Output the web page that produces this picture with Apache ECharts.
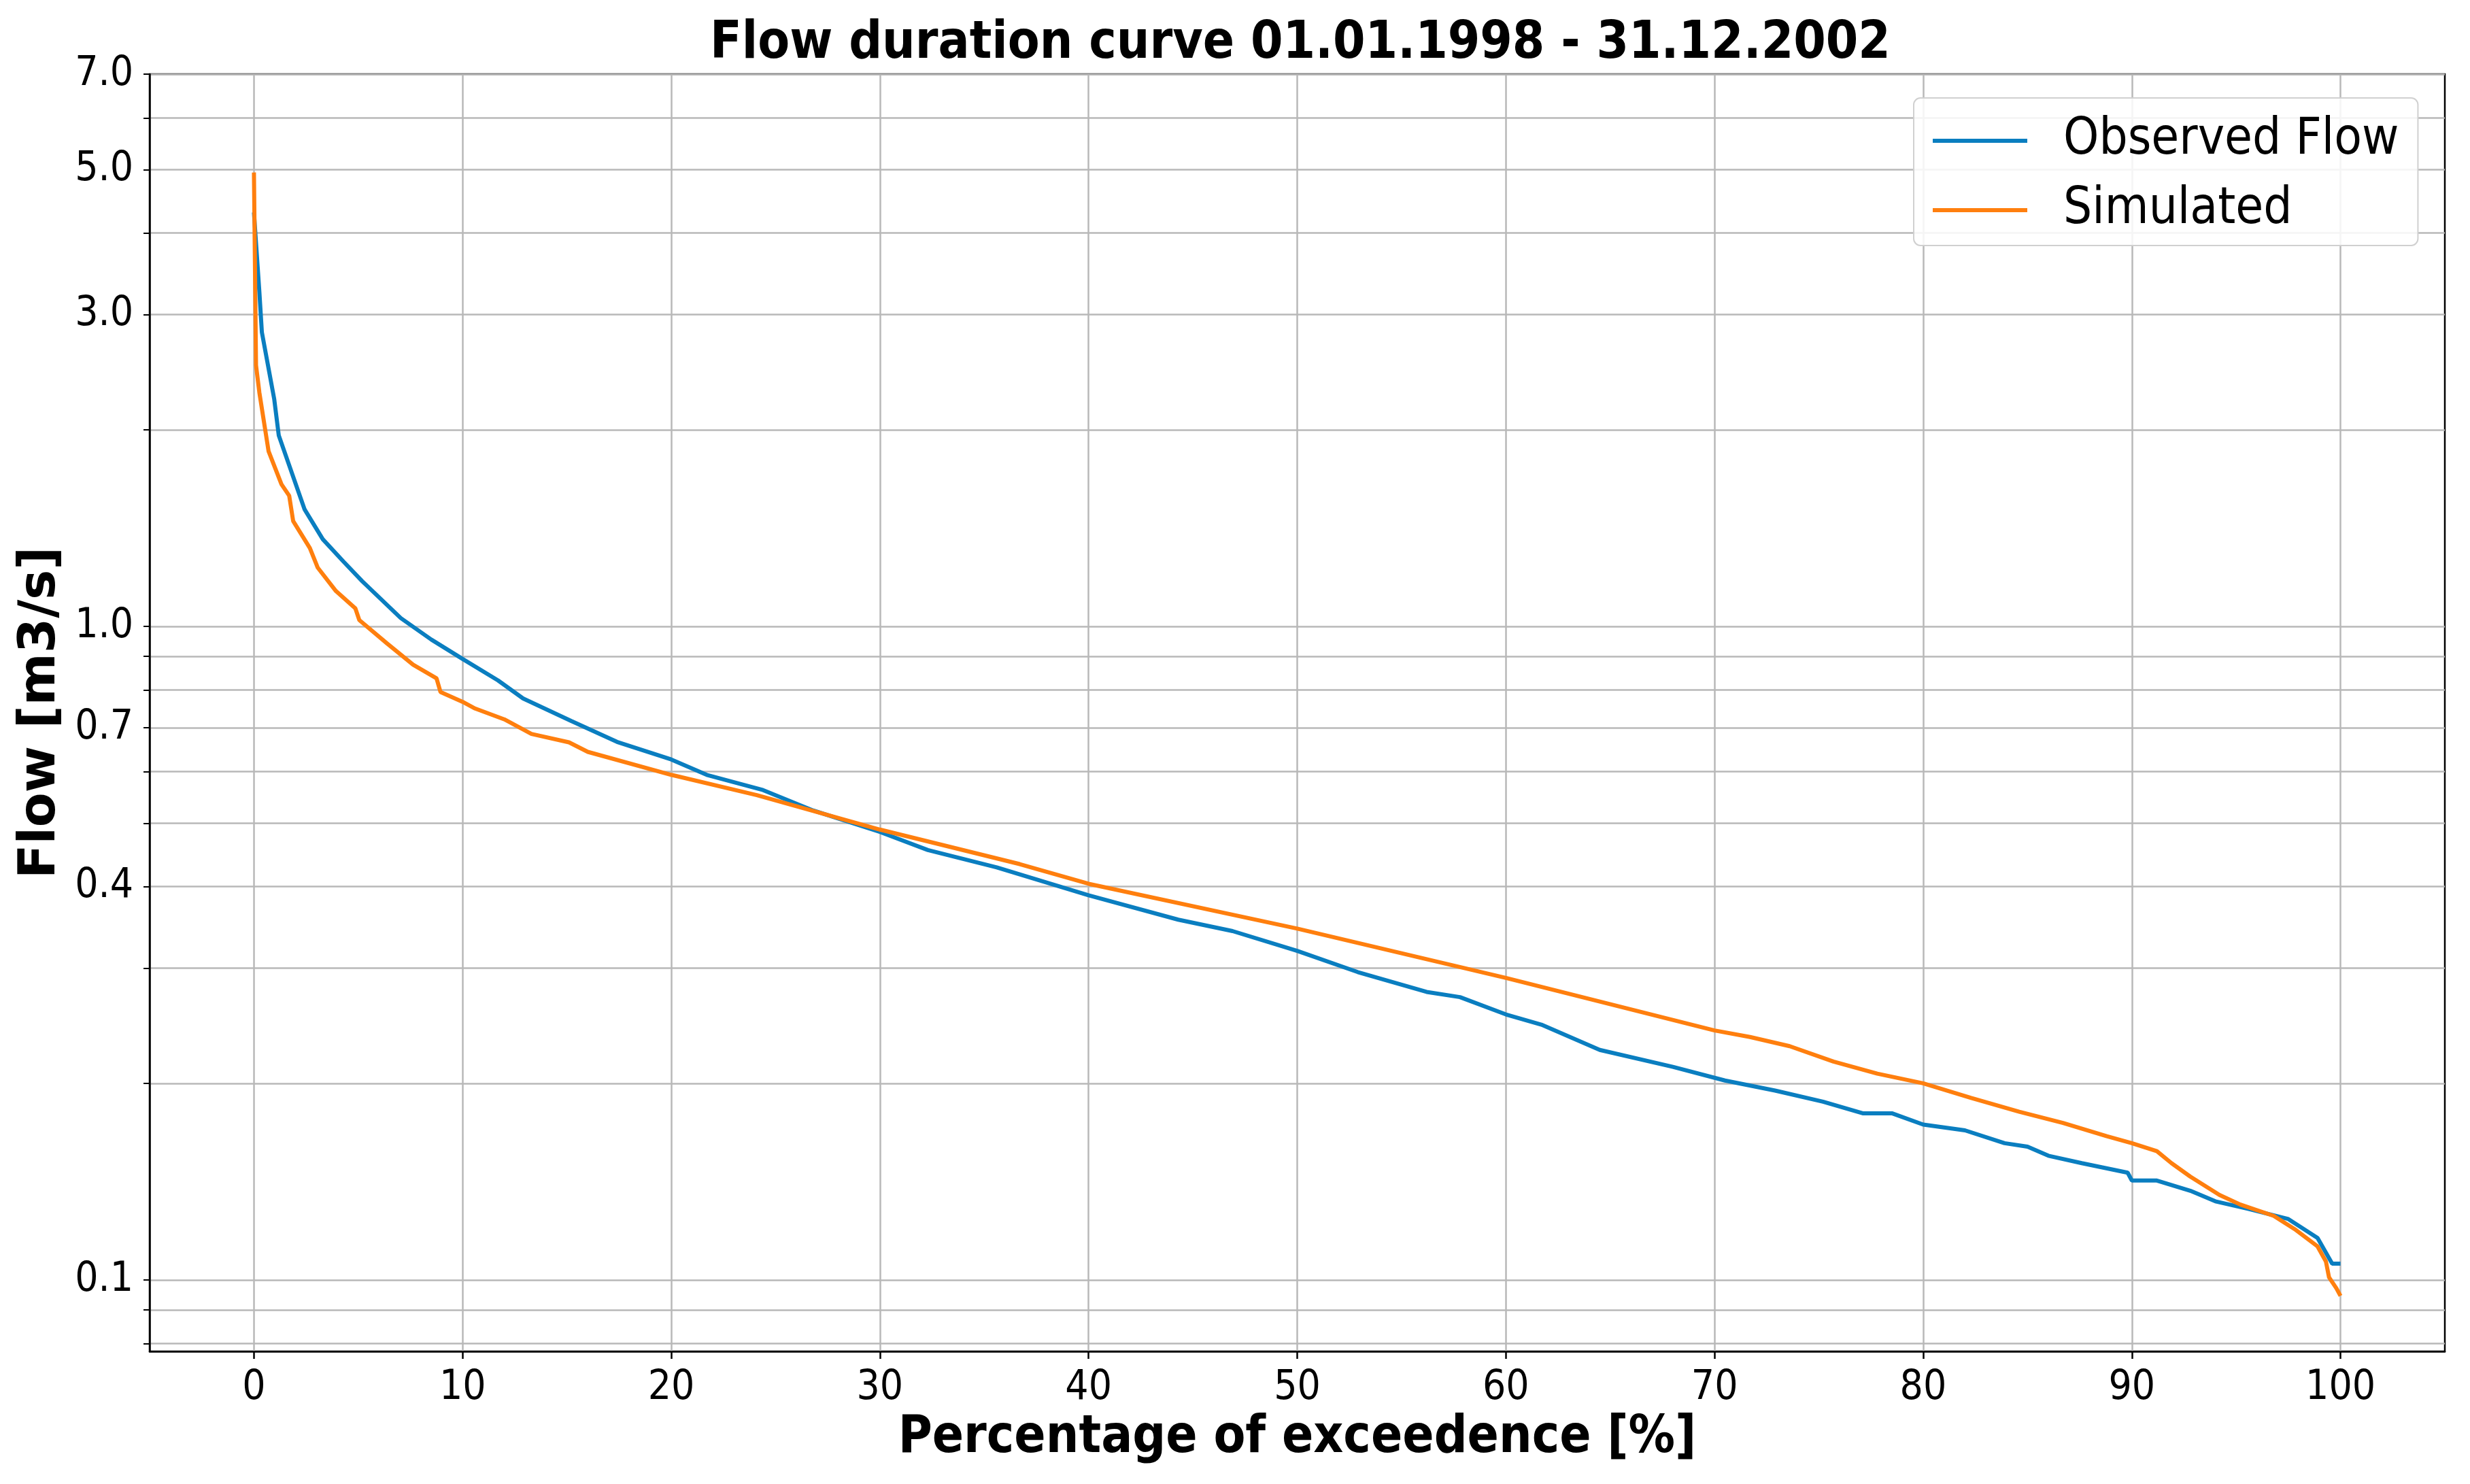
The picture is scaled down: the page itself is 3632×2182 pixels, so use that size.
<!DOCTYPE html>
<html>
<head>
<meta charset="utf-8">
<script src="https://cdn.jsdelivr.net/npm/echarts@6/dist/echarts.min.js"></script>
<style>
  html, body { margin: 0; padding: 0; background: #fff; }
  #chart { width: 3632px; height: 2182px; }
</style>
</head>
<body>
<div id="chart"></div>
<script>
// observed flow duration curve (percent of exceedence, m3/s)
var obsPct  = [0, 0.26, 0.38, 0.97, 1.19, 1.98, 2.43, 3.3, 4.3, 5.19, 7.04, 8.5, 10, 11.7, 12.9, 15.2, 17.4, 20, 21.7, 24.4, 26.8, 30, 32.3, 35.6, 40, 44.3, 46.9, 50, 52.9, 56.2, 57.8, 60, 61.7, 64.5, 68.0, 70.5, 72.9, 75.2, 77.1, 78.5, 80, 82, 83.9, 85.0, 86, 87.6, 89.8, 90.0, 91.2, 92.8, 94.0, 95.6, 97.5, 98.9, 99.6, 100];
var obsFlow = [4.3, 3.25, 2.82, 2.23, 1.96, 1.66, 1.51, 1.36, 1.256, 1.173, 1.03, 0.955, 0.892, 0.827, 0.776, 0.717, 0.666, 0.626, 0.593, 0.562, 0.523, 0.485, 0.455, 0.428, 0.388, 0.356, 0.342, 0.319, 0.296, 0.276, 0.271, 0.255, 0.246, 0.225, 0.212, 0.202, 0.195, 0.1875, 0.180, 0.180, 0.173, 0.1695, 0.162, 0.160, 0.155, 0.151, 0.146, 0.142, 0.142, 0.137, 0.132, 0.1285, 0.124, 0.116, 0.106, 0.106];

// simulated
var simPct  = [0, 0.1, 0.26, 0.7, 1.32, 1.69, 1.88, 2.68, 3.06, 3.93, 4.86, 5.05, 6.38, 7.63, 8.75, 8.94, 10, 10.6, 12.0, 13.3, 15.1, 16.0, 20, 24.1, 30, 36.7, 40, 50, 60, 70, 71.7, 73.6, 75.7, 77.8, 80, 82.3, 84.6, 86.7, 88.8, 90, 91.2, 91.9, 92.8, 94.2, 95.2, 96.8, 97.8, 98.9, 99.3, 99.45, 99.8, 100];
var simFlow = [4.95, 2.51, 2.28, 1.855, 1.65, 1.585, 1.45, 1.318, 1.23, 1.133, 1.066, 1.023, 0.942, 0.874, 0.833, 0.794, 0.767, 0.749, 0.721, 0.685, 0.665, 0.643, 0.593, 0.552, 0.489, 0.433, 0.404, 0.345, 0.290, 0.241, 0.2355, 0.228, 0.216, 0.207, 0.200, 0.190, 0.181, 0.174, 0.166, 0.162, 0.1575, 0.151, 0.144, 0.135, 0.1305, 0.1254, 0.1197, 0.1126, 0.1068, 0.101, 0.0972, 0.0946];

var xTicks = [0, 10, 20, 30, 40, 50, 60, 70, 80, 90, 100];
var yLabels = [0.1, 0.4, 0.7, 1.0, 3.0, 5.0, 7.0];
var yGrid = [0.08, 0.09, 0.1, 0.2, 0.3, 0.4, 0.5, 0.6, 0.7, 0.8, 0.9, 1, 2, 3, 4, 5, 6, 7];

var FONT = "'DejaVu Sans Condensed', 'DejaVu Sans', sans-serif";
var FONT_WIDE = "'DejaVu Sans', sans-serif";

// y is drawn on a log10 scale
function lg(v) { return Math.log10(v); }
function pairs(xs, ys) {
  var out = [];
  for (var i = 0; i < xs.length; i++) out.push([xs[i], lg(ys[i])]);
  return out;
}

var chart = echarts.init(document.getElementById('chart'), null, { renderer: 'canvas' });

var option = {
  animation: false,
  backgroundColor: '#ffffff',
  title: {
    text: 'Flow duration curve 01.01.1998 - 31.12.2002',
    left: 1907,
    top: 22,
    textAlign: 'center',
    textStyle: { fontFamily: FONT, fontWeight: 'bold', fontSize: 76, color: '#000' }
  },
  legend: {
    orient: 'vertical',
    left: 2814,
    top: 144,
    padding: [23, 28, 12, 28],
    itemGap: 22,
    itemWidth: 139,
    itemHeight: 6,
    icon: 'rect',
    backgroundColor: 'rgba(255,255,255,0.85)',
    borderColor: '#d0d0d0',
    borderWidth: 2,
    borderRadius: 10,
    textStyle: { fontFamily: FONT, fontSize: 74, color: '#000', lineHeight: 80, padding: [0, 0, 0, 48] },
    data: ['Observed Flow', 'Simulated']
  },
  grid: {
    left: 220, right: 37, top: 109, bottom: 195,
    show: true,
    borderColor: '#000',
    borderWidth: 2.5,
    backgroundColor: 'transparent'
  },
  xAxis: {
    type: 'value',
    min: -5,
    max: 105,
    name: 'Percentage of exceedence [%]',
    nameLocation: 'middle',
    nameGap: 90,
    nameTextStyle: { fontFamily: FONT, fontWeight: 'bold', fontSize: 76, color: '#000' },
    axisLine: { show: true, onZero: false, lineStyle: { color: '#000', width: 2.5 } },
    axisTick: { show: true, length: 11, inside: false, customValues: xTicks, lineStyle: { color: '#000', width: 2.5 } },
    axisLabel: {
      customValues: xTicks,
      margin: 24,
      fontFamily: FONT, fontSize: 60, color: '#000'
    },
    splitLine: { show: true, lineStyle: { color: '#b8b8b8', width: 2.5 } }
  },
  yAxis: {
    type: 'value',
    min: lg(0.0778),
    max: lg(7),
    name: 'Flow [m3/s]',
    nameLocation: 'middle',
    nameGap: 122,
    nameTextStyle: { fontFamily: FONT_WIDE, fontWeight: 'bold', fontSize: 74, color: '#000' },
    axisLine: { show: true, onZero: false, lineStyle: { color: '#000', width: 2.5 } },
    axisTick: { show: true, length: 9, inside: false, customValues: yGrid.map(lg), lineStyle: { color: '#000', width: 2 } },
    axisLabel: {
      customValues: yLabels.map(lg),
      margin: 24,
      fontFamily: FONT, fontSize: 60, color: '#000',
      formatter: function (v) { return Math.pow(10, v).toFixed(1); }
    },
    splitLine: { show: true, lineStyle: { color: '#b8b8b8', width: 2.5 } }
  },
  series: [
    {
      name: 'Observed Flow',
      type: 'line',
      symbol: 'none',
      showSymbol: false,
      data: pairs(obsPct, obsFlow),
      lineStyle: { color: '#0a7ec0', width: 6 },
      itemStyle: { color: '#0a7ec0' }
    },
    {
      name: 'Simulated',
      type: 'line',
      symbol: 'none',
      showSymbol: false,
      data: pairs(simPct, simFlow),
      lineStyle: { color: '#ff7f0e', width: 6 },
      itemStyle: { color: '#ff7f0e' }
    }
  ]
};

chart.setOption(option);
</script>
</body>
</html>
